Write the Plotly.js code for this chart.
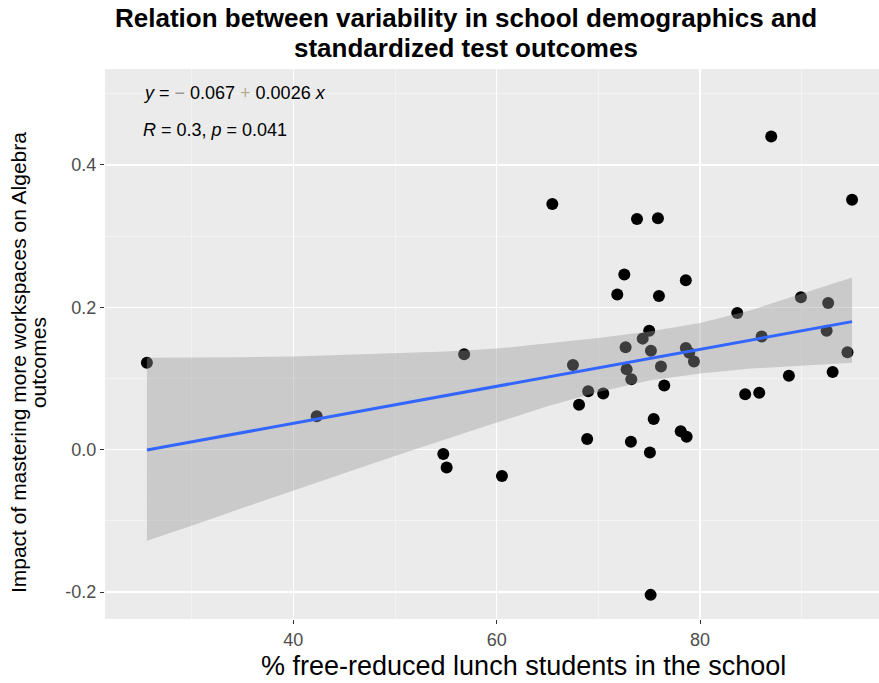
<!DOCTYPE html>
<html>
<head>
<meta charset="utf-8">
<script src="https://cdn.plot.ly/plotly-3.0.1.min.js"></script>
<style>
  html, body { margin: 0; padding: 0; background: #ffffff; }
  #chart { width: 879px; height: 683px; }
</style>
</head>
<body>
<div id="chart"></div>
<script>
// School-level observations: % free/reduced lunch vs. impact on Algebra outcomes
const lunchPct = [
  25.6, 42.3, 56.8, 54.75, 55.08, 60.52, 65.47, 67.5, 68.1, 69.0,
  68.9, 70.48, 71.86, 72.55, 72.68, 72.78, 73.24, 73.2, 73.8, 74.36,
  75.0, 75.17, 75.44, 75.07, 75.14, 75.86, 75.96, 76.16, 76.48, 78.1,
  78.68, 78.6, 78.6, 78.94, 79.4, 83.66, 84.44, 85.82, 86.06, 87.0,
  88.74, 89.92, 92.45, 92.6, 93.04, 94.5, 94.95
];
const impact = [
  0.122, 0.047, 0.134, -0.006, -0.025, -0.037, 0.345, 0.119, 0.063, 0.082,
  0.015, 0.079, 0.218, 0.246, 0.144, 0.113, 0.099, 0.011, 0.324, 0.156,
  0.167, 0.139, 0.043, -0.004, -0.204, 0.325, 0.216, 0.117, 0.090, 0.026,
  0.018, 0.238, 0.143, 0.136, 0.124, 0.192, 0.078, 0.080, 0.159, 0.440,
  0.104, 0.214, 0.167, 0.206, 0.109, 0.137, 0.351
];

// Fitted regression (as reported on the chart)
const fitIntercept = -0.067;
const fitSlope = 0.0026;

// 95% confidence band around the fit
const bandX     = [25.6, 30, 35, 40, 45, 50, 55, 60, 65, 70, 75, 80, 85, 90, 94.95];
const bandUpper = [0.129, 0.129, 0.130, 0.131, 0.133, 0.135, 0.138, 0.142, 0.149, 0.157, 0.166, 0.178, 0.196, 0.219, 0.242];
const bandLower = [-0.128, -0.107, -0.082, -0.057, -0.033, -0.009, 0.015, 0.038, 0.061, 0.081, 0.097, 0.107, 0.114, 0.118, 0.122];

// Axis ticks
const xTickVals = [40, 60, 80];
const xTickText = ['40', '60', '80'];
const yTickVals = [-0.2, 0.0, 0.2, 0.4];
const yTickText = ['-0.2', '0.0', '0.2', '0.4'];

const xMin = Math.min(...lunchPct);
const xMax = Math.max(...lunchPct);
const fitX = [xMin, xMax];
const fitY = fitX.map(v => fitIntercept + fitSlope * v);

const points = {
  type: 'scatter', mode: 'markers',
  x: lunchPct, y: impact,
  marker: { color: '#000000', size: 12, line: { width: 0 } },
  hoverinfo: 'skip', showlegend: false
};

// band is layered over the points so covered markers read dark grey
const band = {
  type: 'scatter', mode: 'lines',
  x: bandX.concat(bandX.slice().reverse()),
  y: bandUpper.concat(bandLower.slice().reverse()),
  fill: 'toself', fillcolor: 'rgba(153,153,153,0.4)',
  line: { width: 0 }, hoverinfo: 'skip', showlegend: false
};

const fitLine = {
  type: 'scatter', mode: 'lines',
  x: fitX, y: fitY,
  line: { color: '#3366FF', width: 3 },
  hoverinfo: 'skip', showlegend: false
};

const FONT = 'Liberation Sans, Arial, sans-serif';
const tickFont = { family: FONT, size: 18, color: '#4D4D4D' };

function note(text, x, y, size, extra) {
  return Object.assign({
    xref: 'paper', yref: 'paper', x: x, y: y,
    xanchor: 'center', yanchor: 'middle', showarrow: false,
    text: text, font: { family: FONT, size: size, color: '#000000' }
  }, extra || {});
}

const layout = {
  width: 879, height: 683,
  margin: { l: 105, r: 0, t: 69, b: 64, pad: 0 },
  paper_bgcolor: '#ffffff',
  plot_bgcolor: '#EBEBEB',
  font: { family: FONT },
  xaxis: {
    range: [21.48, 97.6],
    tickmode: 'array', tickvals: xTickVals, ticktext: xTickText,
    ticks: 'outside', ticklen: 4, tickwidth: 1, tickcolor: '#333333',
    tickfont: tickFont,
    showgrid: true, gridcolor: '#ffffff', gridwidth: 1.6,
    minor: { tickmode: 'array', tickvals: [30, 50, 70, 90], showgrid: true, gridcolor: '#F5F5F5', gridwidth: 0.8, ticks: '' },
    zeroline: false, showline: false, fixedrange: true
  },
  yaxis: {
    range: [-0.2379, 0.5348],
    tickmode: 'array', tickvals: yTickVals, ticktext: yTickText,
    ticks: 'outside', ticklen: 4, tickwidth: 1, tickcolor: '#333333',
    tickfont: tickFont,
    showgrid: true, gridcolor: '#ffffff', gridwidth: 1.6,
    minor: { tickmode: 'array', tickvals: [-0.1, 0.1, 0.3, 0.5], showgrid: true, gridcolor: '#F5F5F5', gridwidth: 0.8, ticks: '' },
    zeroline: false, showline: false, fixedrange: true
  },
  annotations: [
    // chart title (two lines)
    note('<b>Relation between variability in school demographics and</b>', 0.467, 1.0927, 26),
    note('<b>standardized test outcomes</b>', 0.467, 1.0382, 26),
    // axis titles
    note('% free-reduced lunch students in the school', 0.541, -0.085, 27),
    note('Impact of mastering more workspaces on Algebra', -0.1125, 0.467, 21, { textangle: -90 }),
    note('outcomes', -0.0866, 0.467, 21, { textangle: -90 }),
    // regression summary
    note('<i>y</i> = <span style="color:#9a9a9a">−</span> 0.067 <span style="color:#b5ab8f">+</span> 0.0026 <i>x</i>',
         0.047, 0.9564, 18, { xanchor: 'left' }),
    note('<i>R</i> = 0.3, <i>p</i> = 0.041', 0.047, 0.889, 18, { xanchor: 'left' })
  ]
};

Plotly.newPlot('chart', [points, band, fitLine], layout, { staticPlot: true, displayModeBar: false });
</script>
</body>
</html>
